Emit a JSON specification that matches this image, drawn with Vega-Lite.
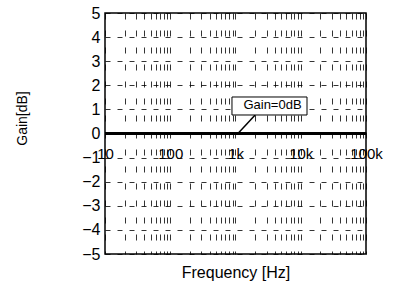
{
  "$schema": "https://vega.github.io/schema/vega-lite/v6.json",
  "width": 261,
  "height": 241,
  "autosize": {"type": "none"},
  "padding": {"left": 105, "top": 13, "right": 29, "bottom": 37},
  "config": {
    "font": "Liberation Sans",
    "view": {"stroke": "black", "strokeWidth": 1.5},
    "axis": {"labelColor": "black", "titleColor": "black", "titleFontWeight": "normal"}
  },
  "layer": [
    {
      "data": {"values": [{"f": 10, "gain": 0}, {"f": 100000, "gain": 0}]},
      "mark": {"type": "line", "color": "black", "strokeWidth": 3},
      "encoding": {
        "x": {
          "field": "f", "type": "quantitative",
          "scale": {"type": "log", "domain": [10, 100000], "nice": false},
          "axis": {
            "values": [10,20,30,40,50,60,70,80,90,100,200,300,400,500,600,700,800,900,1000,2000,3000,4000,5000,6000,7000,8000,9000,10000,20000,30000,40000,50000,60000,70000,80000,90000,100000],
            "tickCount": 100,
            "labelExpr": "datum.value == 10 ? '10' : datum.value == 100 ? '100' : datum.value == 1000 ? '1k' : datum.value == 10000 ? '10k' : datum.value == 100000 ? '100k' : ''",
            "grid": true, "gridColor": "black", "gridOpacity": 1, "gridWidth": 0.8, "gridDash": [6, 11],
            "ticks": false, "domain": false,
            "offset": -120.5,
            "labelPadding": 13, "labelFontSize": 15, "labelDx": 3, "labelOverlap": false, "labelFlush": false,
            "title": "Frequency [Hz]", "titleFontSize": 16, "titleBaseline": "alphabetic", "titleY": 144
          }
        },
        "y": {
          "field": "gain", "type": "quantitative",
          "scale": {"domain": [-5, 5], "nice": false},
          "axis": {
            "values": [-5,-4,-3,-2,-1,0,1,2,3,4,5],
            "tickCount": 20,
            "format": "d",
            "grid": true, "gridColor": "black", "gridOpacity": 1, "gridWidth": 0.8, "gridDash": [5, 7],
            "ticks": false, "domain": false,
            "labelPadding": 5, "labelFontSize": 16, "labelOverlap": false, "labelFlush": false, "labelBound": false,
            "title": "Gain[dB]", "titleFontSize": 14, "titleAngle": -90, "titleAlign": "center", "titleBaseline": "middle",
            "titleX": -82.5, "titleY": 105
          }
        }
      }
    },
    {
      "data": {"values": [{"f": 1090, "gain": 0, "f2": 2000, "gain2": 0.77}]},
      "mark": {"type": "rule", "color": "black", "strokeWidth": 1.5},
      "encoding": {
        "x": {"field": "f", "type": "quantitative"},
        "y": {"field": "gain", "type": "quantitative"},
        "x2": {"field": "f2"},
        "y2": {"field": "gain2"}
      }
    },
    {
      "data": {"values": [{"f": 883, "f2": 12470, "gain": 0.768, "gain2": 1.515}]},
      "mark": {"type": "rect", "fill": "white", "stroke": "black", "strokeWidth": 1},
      "encoding": {
        "x": {"field": "f", "type": "quantitative"},
        "x2": {"field": "f2"},
        "y": {"field": "gain", "type": "quantitative"},
        "y2": {"field": "gain2"}
      }
    },
    {
      "data": {"values": [{"f": 3690, "gain": 1.18, "label": "Gain=0dB"}]},
      "mark": {"type": "text", "fontSize": 13, "color": "black", "baseline": "middle", "align": "center"},
      "encoding": {
        "x": {"field": "f", "type": "quantitative"},
        "y": {"field": "gain", "type": "quantitative"},
        "text": {"field": "label"}
      }
    }
  ]
}
